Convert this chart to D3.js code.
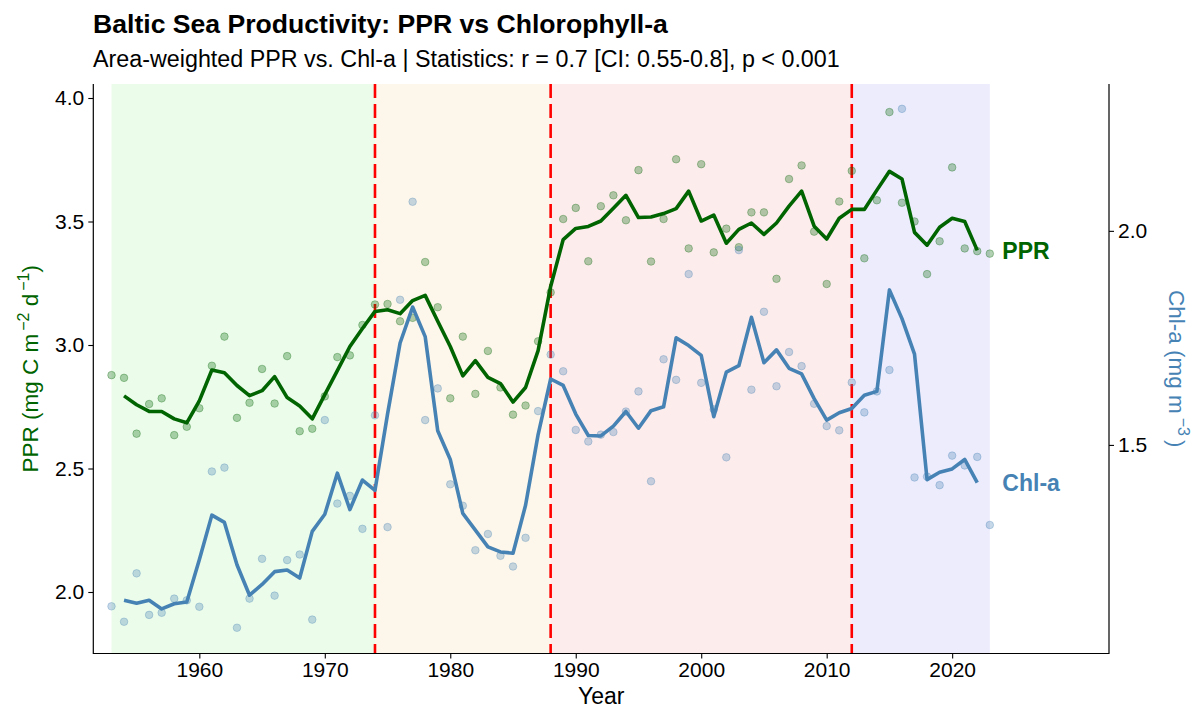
<!DOCTYPE html>
<html><head><meta charset="utf-8">
<script src="https://cdn.jsdelivr.net/npm/d3@7"></script>
<style>
body{margin:0;background:#fff;}
text{font-family:"Liberation Sans", Arial, sans-serif;}
</style>
</head><body>
<svg id="chart" width="1199" height="711"></svg>
<script>
// ---------------- data ----------------
const years = [1953,1954,1955,1956,1957,1958,1959,1960,1961,1962,1963,1964,1965,1966,1967,1968,1969,1970,1971,1972,1973,1974,1975,1976,1977,1978,1979,1980,1981,1982,1983,1984,1985,1986,1987,1988,1989,1990,1991,1992,1993,1994,1995,1996,1997,1998,1999,2000,2001,2002,2003,2004,2005,2006,2007,2008,2009,2010,2011,2012,2013,2014,2015,2016,2017,2018,2019,2020,2021,2022,2023];
const pprValues = [2.878,2.867,2.641,2.761,2.784,2.635,2.669,2.744,2.916,3.034,2.705,2.766,2.903,2.763,2.955,2.651,2.661,2.792,2.951,2.958,3.081,3.164,3.166,3.096,3.110,3.336,3.153,2.784,3.034,2.802,2.976,2.828,2.718,2.755,3.015,3.213,3.510,3.555,3.339,3.562,3.606,3.505,3.708,3.338,3.510,3.752,3.391,3.732,3.375,3.471,3.396,3.537,3.537,3.268,3.672,3.727,3.459,3.247,3.581,3.705,3.351,3.586,3.943,3.576,3.500,3.287,3.420,3.719,3.391,3.380,3.370];
const chlValues = [1.123,1.087,1.200,1.103,1.108,1.141,1.137,1.122,1.438,1.447,1.073,1.141,1.234,1.148,1.231,1.244,1.092,1.558,1.363,1.381,1.304,1.569,1.308,1.839,2.068,1.558,1.632,1.408,1.358,1.254,1.292,1.241,1.216,1.283,1.579,1.711,1.672,1.535,1.508,1.524,1.530,1.578,1.625,1.415,1.700,1.652,1.899,1.645,1.583,1.471,1.955,1.629,1.811,1.637,1.717,1.684,1.596,1.544,1.534,1.646,1.576,1.625,1.675,2.285,1.424,1.426,1.406,1.475,1.452,1.472,1.313];
const lineYears = [1954,1955,1956,1957,1958,1959,1960,1961,1962,1963,1964,1965,1966,1967,1968,1969,1970,1971,1972,1973,1974,1975,1976,1977,1978,1979,1980,1981,1982,1983,1984,1985,1986,1987,1988,1989,1990,1991,1992,1993,1994,1995,1996,1997,1998,1999,2000,2001,2002,2003,2004,2005,2006,2007,2008,2009,2010,2011,2012,2013,2014,2015,2016,2017,2018,2019,2020,2021,2022];
const pprSmooth = [2.794,2.758,2.731,2.731,2.701,2.685,2.774,2.899,2.888,2.836,2.795,2.815,2.872,2.787,2.753,2.701,2.799,2.896,2.994,3.067,3.136,3.143,3.127,3.180,3.201,3.096,2.994,2.875,2.937,2.869,2.844,2.769,2.828,2.977,3.237,3.427,3.472,3.480,3.502,3.554,3.606,3.516,3.518,3.532,3.552,3.623,3.502,3.526,3.412,3.468,3.494,3.448,3.494,3.562,3.623,3.481,3.429,3.513,3.549,3.549,3.627,3.703,3.672,3.456,3.404,3.477,3.513,3.500,3.383];
const chlSmooth = [1.137,1.130,1.137,1.117,1.129,1.133,1.232,1.336,1.319,1.220,1.149,1.174,1.204,1.208,1.189,1.298,1.338,1.434,1.349,1.418,1.394,1.572,1.738,1.822,1.753,1.533,1.466,1.340,1.301,1.262,1.250,1.247,1.359,1.524,1.654,1.639,1.572,1.522,1.521,1.544,1.578,1.539,1.580,1.589,1.750,1.732,1.709,1.566,1.670,1.685,1.798,1.692,1.722,1.679,1.666,1.608,1.558,1.575,1.585,1.616,1.625,1.862,1.795,1.712,1.419,1.436,1.444,1.466,1.412];
const periodStarts = [1953,1974,1988,2012];
const periodEnds = [1974,1988,2012,2023];
const periodFills = ["#ebfceb","#fdf7eb","#fdecec","#ececfd"];
const breakYears = [1974,1988,2012];
const xTicks = [1960,1970,1980,1990,2000,2010,2020];
const yLeftTicks = [2.0,2.5,3.0,3.5,4.0];
const yRightTicks = [1.5,2.0];

// ---------------- layout ----------------
const L=93.3, R=1109, T=84, B=653.5;
const GREEN="#006400", BLUE="#4682B4";
const svg=d3.select("#chart");
const x=d3.scaleLinear().domain([1951.55,2032.5]).range([L,R]);
const yL=d3.scaleLinear().domain([1.751,4.0567]).range([B,T]);
const yR=d3.scaleLinear().domain([1.0128,2.343]).range([B,T]);

// shaded periods
svg.append("g").selectAll("rect").data(periodStarts).join("rect")
  .attr("x",(d)=>x(d)).attr("width",(d,i)=>x(periodEnds[i])-x(d))
  .attr("y",T).attr("height",B-T).attr("fill",(d,i)=>periodFills[i]);

// break lines
svg.append("g").selectAll("line").data(breakYears).join("line")
  .attr("x1",d=>x(d)).attr("x2",d=>x(d)).attr("y1",T).attr("y2",B)
  .attr("stroke","#ff0000").attr("stroke-width",2.6).attr("stroke-dasharray","14,6");

// points
const pts=svg.append("g");
pts.selectAll("circle.p").data(years).join("circle").attr("class","p")
  .attr("cx",d=>x(d)).attr("cy",(d,i)=>yL(pprValues[i])).attr("r",3.8)
  .attr("fill",GREEN).attr("fill-opacity",0.3).attr("stroke",GREEN).attr("stroke-opacity",0.3).attr("stroke-width",1);
pts.selectAll("circle.c").data(years).join("circle").attr("class","c")
  .attr("cx",d=>x(d)).attr("cy",(d,i)=>yR(chlValues[i])).attr("r",3.8)
  .attr("fill",BLUE).attr("fill-opacity",0.3).attr("stroke",BLUE).attr("stroke-opacity",0.3).attr("stroke-width",1);

// smoothed lines
const lineP=d3.line().x(d=>x(d)).y((d,i)=>yL(pprSmooth[i]));
const lineC=d3.line().x(d=>x(d)).y((d,i)=>yR(chlSmooth[i]));
svg.append("path").datum(lineYears).attr("d",lineC).attr("fill","none").attr("stroke",BLUE)
  .attr("stroke-width",3.6).attr("stroke-linejoin","round");
svg.append("path").datum(lineYears).attr("d",lineP).attr("fill","none").attr("stroke",GREEN)
  .attr("stroke-width",3.6).attr("stroke-linejoin","round");

// end labels
const lastP=pprSmooth[pprSmooth.length-1], lastC=chlSmooth[chlSmooth.length-1];
svg.append("text").attr("x",x(2024)).attr("y",yL(lastP)).attr("dy","0.36em")
  .attr("font-size",23).attr("font-weight","bold").attr("fill",GREEN).text("PPR");
svg.append("text").attr("x",x(2024)).attr("y",yR(lastC)).attr("dy","0.36em")
  .attr("font-size",23).attr("font-weight","bold").attr("fill",BLUE).text("Chl-a");

// axes
function styleAxis(g){
  g.select(".domain").remove();
  g.selectAll(".tick line").attr("stroke","#000").attr("stroke-width",1.1);
  g.selectAll(".tick text").attr("fill","#000").attr("font-size",21)
   .attr("font-family","\"Liberation Sans\", Arial, sans-serif");
}
svg.append("g").attr("transform",`translate(${L},0)`)
  .call(d3.axisLeft(yL).tickValues(yLeftTicks).tickFormat(d3.format(".1f")).tickSize(5).tickPadding(4))
  .call(styleAxis);
svg.append("g").attr("transform",`translate(${R},0)`)
  .call(d3.axisRight(yR).tickValues(yRightTicks).tickFormat(d3.format(".1f")).tickSize(5).tickPadding(4))
  .call(styleAxis);
svg.append("g").attr("transform",`translate(0,${B})`)
  .call(d3.axisBottom(x).tickValues(xTicks).tickFormat(d3.format("d")).tickSize(5).tickPadding(4))
  .call(styleAxis);
// axis lines
svg.append("path").attr("d",`M${L},${T}V${B}H${R}V${T}`).attr("fill","none").attr("stroke","#000").attr("stroke-width",1.2);

// titles
svg.append("text").attr("x",93).attr("y",33).attr("font-size",26.6).attr("font-weight","bold").attr("fill","#000")
  .text("Baltic Sea Productivity: PPR vs Chlorophyll-a");
svg.append("text").attr("x",93).attr("y",67).attr("font-size",23.3).attr("fill","#000")
  .text("Area-weighted PPR vs. Chl-a | Statistics: r = 0.7 [CI: 0.55-0.8], p < 0.001");
svg.append("text").attr("x",(L+R)/2).attr("y",704).attr("text-anchor","middle").attr("font-size",23).attr("fill","#000").text("Year");

const lt=svg.append("text").attr("transform",`translate(38,${(T+B)/2}) rotate(-90)`).attr("text-anchor","middle")
  .attr("font-size",22.5).attr("fill",GREEN);
lt.append("tspan").text("PPR (mg C m");
lt.append("tspan").attr("font-size",16).attr("dy",-9).attr("dx",3).text("\u22122");
lt.append("tspan").attr("dy",9).text(" d");
lt.append("tspan").attr("font-size",16).attr("dy",-9).attr("dx",3).text("\u22121");
lt.append("tspan").attr("dy",9).text(")");

const rt=svg.append("text").attr("transform",`translate(1169,${(T+B)/2}) rotate(90)`).attr("text-anchor","middle")
  .attr("font-size",22.5).attr("fill",BLUE);
rt.append("tspan").text("Chl-a (mg m");
rt.append("tspan").attr("font-size",16).attr("dy",-9).attr("dx",4).text("\u22123");
rt.append("tspan").attr("dy",9).attr("dx",4).text(")");
</script>
</body></html>
